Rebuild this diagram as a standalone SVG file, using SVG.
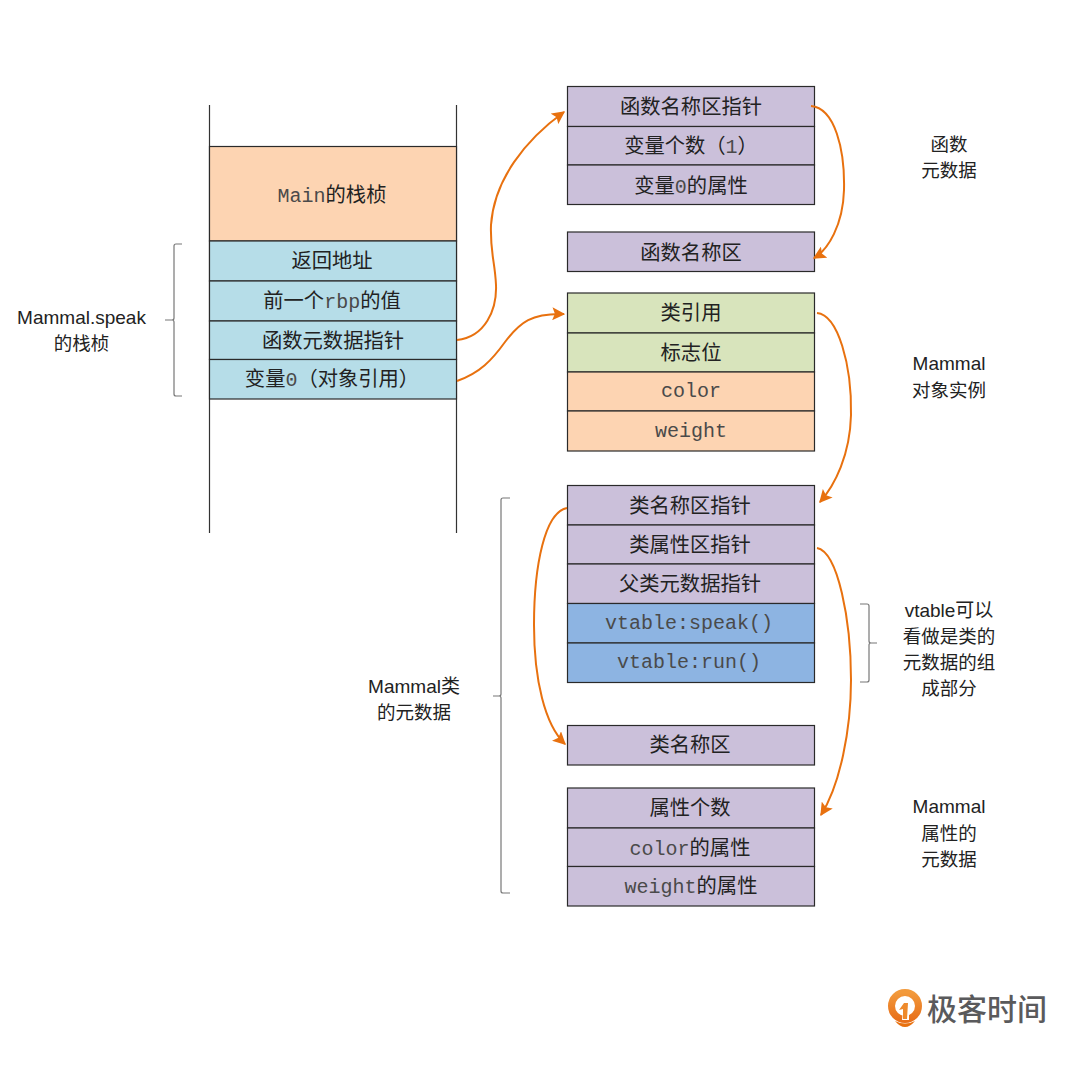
<svg xmlns="http://www.w3.org/2000/svg" width="1080" height="1073" viewBox="0 0 1080 1073">
<style>
text{font-family:"Liberation Mono","Noto Sans CJK SC",monospace;font-size:20.3px;fill:#222;text-anchor:middle}
.m{font-family:"Liberation Mono",monospace;font-size:20px;fill:#4a4a4a}
.l{font-family:"Liberation Sans","Noto Sans CJK SC",sans-serif;font-size:18.500px}
.n{font-size:19px}
.c{fill:none;stroke:#e8710f;stroke-width:2;marker-end:url(#a)}
.b{fill:none;stroke:#777;stroke-width:1.200}
rect{stroke:#2a2a2a;stroke-width:1.200}
.o{fill:#fdd4b2}.t{fill:#b6dde8}.p{fill:#cbc0da}.g{fill:#d8e4bc}.u{fill:#8db4e2}
</style>
<defs>
<marker id="a" viewBox="0 0 10 10" refX="9" refY="5" markerWidth="6.500" markerHeight="6.500" orient="auto" markerUnits="strokeWidth"><path d="M0 0L10 5L0 10L2 5Z" fill="#e8710f"/></marker>
<linearGradient id="lg" x1="0" y1="0" x2="0" y2="1"><stop offset="0" stop-color="#f29a3c"/><stop offset="1" stop-color="#e8701a"/></linearGradient>
</defs>
<rect width="1080" height="1073" style="fill:#fff;stroke:none"/>
<g id="stack-rails"><path d="M209.500 105V533M456.500 105V533" fill="none" stroke="#333" stroke-width="1.200"/></g>
<g id="main-frame"><rect class="o" x="209.500" y="146.500" width="247" height="94.500"/><text x="332" y="202"><tspan class="m">Main</tspan>的栈桢</text></g>
<g id="ret"><rect class="t" x="209.500" y="241" width="247" height="40"/><text x="332" y="268">返回地址</text></g>
<g id="rbp"><rect class="t" x="209.500" y="281" width="247" height="40"/><text x="332" y="308">前一个<tspan class="m">rbp</tspan>的值</text></g>
<g id="fnmeta"><rect class="t" x="209.500" y="321" width="247" height="38.500"/><text x="333" y="348">函数元数据指针</text></g>
<g id="var0"><rect class="t" x="209.500" y="359.500" width="247" height="39.500"/><text x="332" y="386">变量<tspan class="m">0</tspan>（对象引用）</text></g>
<g id="f1"><rect class="p" x="567.500" y="86.500" width="247" height="40"/><text x="691" y="114">函数名称区指针</text></g>
<g id="f2"><rect class="p" x="567.500" y="126.500" width="247" height="38.500"/><text x="691" y="153">变量个数（<tspan class="m">1</tspan>）</text></g>
<g id="f3"><rect class="p" x="567.500" y="165" width="247" height="39.500"/><text x="691" y="193">变量<tspan class="m">0</tspan>的属性</text></g>
<g id="f4"><rect class="p" x="567.500" y="232" width="247" height="39.500"/><text x="691" y="260">函数名称区</text></g>
<g id="o1"><rect class="g" x="567.500" y="293" width="247" height="40"/><text x="691" y="320">类引用</text></g>
<g id="o2"><rect class="g" x="567.500" y="333" width="247" height="39"/><text x="691" y="360">标志位</text></g>
<g id="o3"><rect class="o" x="567.500" y="372" width="247" height="39"/><text class="m" x="691" y="397">color</text></g>
<g id="o4"><rect class="o" x="567.500" y="411" width="247" height="40"/><text class="m" x="691" y="437">weight</text></g>
<g id="c1"><rect class="p" x="567.500" y="485.500" width="247" height="39.500"/><text x="690" y="513">类名称区指针</text></g>
<g id="c2"><rect class="p" x="567.500" y="525" width="247" height="39"/><text x="690" y="552">类属性区指针</text></g>
<g id="c3"><rect class="p" x="567.500" y="564" width="247" height="39.500"/><text x="690" y="591">父类元数据指针</text></g>
<g id="c4"><rect class="u" x="567.500" y="603.500" width="247" height="39.500"/><text class="m" x="689" y="629">vtable:speak()</text></g>
<g id="c5"><rect class="u" x="567.500" y="643" width="247" height="39.500"/><text class="m" x="689" y="668">vtable:run()</text></g>
<g id="c6"><rect class="p" x="567.500" y="725.500" width="247" height="39.500"/><text x="690" y="752">类名称区</text></g>
<g id="a1"><rect class="p" x="567.500" y="788" width="247" height="40"/><text x="690" y="815">属性个数</text></g>
<g id="a2"><rect class="p" x="567.500" y="828" width="247" height="38.500"/><text x="690" y="855"><tspan class="m">color</tspan>的属性</text></g>
<g id="a3"><rect class="p" x="567.500" y="866.500" width="247" height="39.500"/><text x="691" y="893"><tspan class="m">weight</tspan>的属性</text></g>
<g id="connectors">
<path class="c" d="M457 340C485 337 497 310 496 285C495 262 490 252 491 225C494 180 525 140 564 112"/>
<path class="c" d="M457 381C480 373 492 360 505 342C520 322 532 313 564 314"/>
<path class="c" d="M811 106C835 108 845 150 844 190C843 225 828 250 814 258"/>
<path class="c" d="M817 313C838 315 852 365 851 415C850 455 835 485 820 502"/>
<path class="c" d="M567 508C545 512 534 565 534 625C534 680 545 725 565 744"/>
<path class="c" d="M817 548C838 552 851 620 851 680C851 730 840 785 821 815"/>
</g>
<g id="brace-stack"><path class="b" d="M182 244H176Q174 244 174 246V318Q174 320 172 320H165H172Q174 320 174 322V394Q174 396 176 396H182"/><text class="l n" x="81.500" y="324">Mammal.speak</text><text class="l" x="81.500" y="350">的栈桢</text></g>
<g id="brace-class"><path class="b" d="M510 498H503Q501 498 501 500V694Q501 696 499 696H493H499Q501 696 501 698V891Q501 893 503 893H510"/><text class="l n" x="414" y="693">Mammal类</text><text class="l" x="414" y="719">的元数据</text></g>
<g id="brace-vtable"><path class="b" d="M860 604H867Q869 604 869 606V641Q869 643 871 643H877H871Q869 643 869 645V680Q869 682 867 682H860"/><text class="l n" x="949" y="617">vtable可以</text><text class="l" x="949" y="643">看做是类的</text><text class="l" x="949" y="669">元数据的组</text><text class="l" x="949" y="695">成部分</text></g>
<g id="label-fn"><text class="l" x="949" y="151">函数</text><text class="l" x="949" y="177">元数据</text></g>
<g id="label-obj"><text class="l n" x="949" y="370">Mammal</text><text class="l" x="949" y="397">对象实例</text></g>
<g id="label-attr"><text class="l n" x="949" y="813">Mammal</text><text class="l" x="949" y="840">属性的</text><text class="l" x="949" y="866">元数据</text></g>
<g id="logo">
<circle cx="905" cy="1006" r="13.500" fill="none" stroke="url(#lg)" stroke-width="7"/>
<path d="M903.500 1004L909 1000V1020H902Z" fill="#fff"/>
<path d="M904 1003L899 1010L903 1009V1019H907L908 1003Z" fill="#ee8a2c"/>
<path d="M895 1021Q905 1026 915 1021Q905 1033 895 1021Z" fill="#e8710f"/>
<text x="987" y="1020" style="font-family:'Noto Sans CJK SC',sans-serif;font-size:30px;font-weight:500;fill:#5a5a5c">极客时间</text>
</g>
</svg>
